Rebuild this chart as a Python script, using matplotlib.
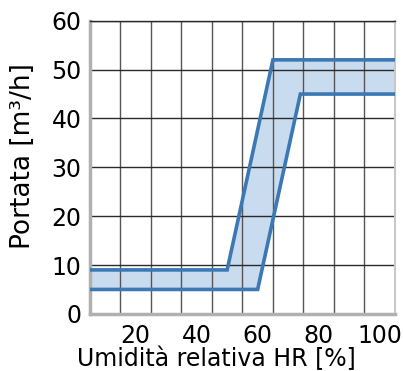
import numpy as np
import matplotlib
matplotlib.use("Agg")
import matplotlib.pyplot as plt

# ============================================
# Data
# ============================================
hr_upper = [5, 50, 65, 105]
flow_upper = [9, 9, 52, 52]
hr_lower = [5, 60, 74, 105]
flow_lower = [5, 5, 45, 45]

x_ticks = [20, 40, 60, 80, 100]
x_grid = [15, 25, 35, 45, 55, 65, 75, 85, 95]
y_ticks = [0, 10, 20, 30, 40, 50, 60]

plt.rcParams["font.family"] = ["DejaVu Sans"]
FS = 17

fig = plt.figure(figsize=(4.03, 3.71), dpi=100)
ax = fig.add_axes([0.223, 0.154, 0.757, 0.790])

# band between the two curves
band_x = np.concatenate([hr_upper, hr_lower[::-1]])
band_y = np.concatenate([flow_upper, flow_lower[::-1]])
ax.fill(band_x, band_y, color="#c9dbef", lw=0, zorder=1)

ax.plot(hr_upper, flow_upper, color="#3b78b4", lw=2.6, zorder=3,
        solid_joinstyle="miter")
ax.plot(hr_lower, flow_lower, color="#3b78b4", lw=2.6, zorder=3,
        solid_joinstyle="miter")

ax.set_xlim(5, 105)
ax.set_ylim(0, 60)

ax.set_xticks(x_ticks)
ax.set_xticks(x_grid, minor=True)
ax.set_yticks(y_ticks)
ax.tick_params(axis="both", which="both", length=0, labelsize=FS)
ax.tick_params(axis="x", pad=7)
ax.tick_params(axis="y", pad=6)

ax.grid(False)
ax.grid(True, axis="x", which="minor", color="#555555", lw=1.0, zorder=2)
ax.grid(True, axis="y", which="major", color="#2a2a2a", lw=1.0, zorder=2)

for side in ("left", "bottom"):
    ax.spines[side].set_color("#b0b0b0")
    ax.spines[side].set_linewidth(2.5)
ax.spines["right"].set_color("#c8c8c8")
ax.spines["right"].set_linewidth(1.5)
ax.spines["top"].set_color("#2a2a2a")
ax.spines["top"].set_linewidth(1.0)

ax.set_xlabel("Umidità relativa HR [%]", fontsize=FS)
ax.set_ylabel("Portata [m³/h]", fontsize=19)
ax.xaxis.label.set_va("center")
ax.yaxis.label.set_va("center")
ax.xaxis.set_label_coords(0.415, -0.153)
ax.yaxis.set_label_coords(-0.22, 0.54)

fig.savefig("out.png", dpi=100)
